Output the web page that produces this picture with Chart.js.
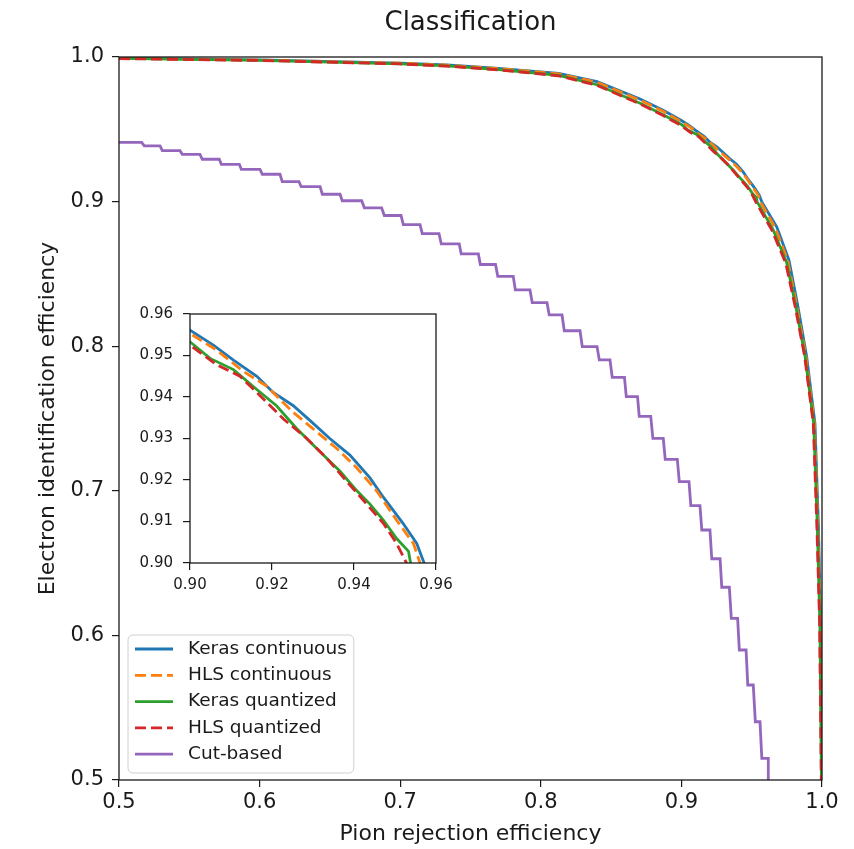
<!DOCTYPE html>
<html>
<head>
<meta charset="utf-8">
<script src="https://cdn.jsdelivr.net/npm/chart.js@4.4.1/dist/chart.umd.min.js"></script>
<style>
  body { margin: 0; background: #fff; }
  #wrap { position: relative; width: 854px; height: 849px; }
  #inset { position: absolute; left: 130px; top: 295px; }
</style>
</head>
<body>
<div id="wrap">
  <canvas id="main" width="854" height="849"></canvas>
  <canvas id="inset" width="330" height="310"></canvas>
</div>
<script>
const FONT = '"DejaVu Sans", sans-serif'
const INK = '#1a1a1a'

const labels = ['Keras continuous', 'HLS continuous', 'Keras quantized', 'HLS quantized', 'Cut-based']
const colors = ['#1f77b4', '#ff7f0e', '#2ca02c', '#d62728', '#9467bd']

const mainTicks = [0.5, 0.6, 0.7, 0.8, 0.9, 1.0]
const insetXTicks = [0.90, 0.92, 0.94, 0.96]
const insetYTicks = [0.90, 0.91, 0.92, 0.93, 0.94, 0.95, 0.96]

// ROC curves (pion rejection -> electron efficiency)
const kerasContX = [0.5, 0.6, 0.7, 0.733, 0.77, 0.8127, 0.84, 0.8706, 0.887, 0.9, 0.9057, 0.9106, 0.9163, 0.9203, 0.9252, 0.9293, 0.9341, 0.939, 0.9439, 0.9472, 0.952, 0.9553, 0.9571, 0.9678, 0.9765, 0.9829, 0.9891, 0.995, 0.9974, 0.9991, 1.0]
const kerasContY = [0.9992, 0.998, 0.9958, 0.9945, 0.9922, 0.9887, 0.983, 0.971, 0.9632, 0.9561, 0.9525, 0.9489, 0.945, 0.9411, 0.9379, 0.9343, 0.93, 0.926, 0.9205, 0.9158, 0.9095, 0.9047, 0.90, 0.8826, 0.8596, 0.8273, 0.7927, 0.7467, 0.6775, 0.6084, 0.5]

const hlsContX = [0.5, 0.6, 0.7, 0.733, 0.77, 0.8127, 0.84, 0.8706, 0.887, 0.9, 0.9065, 0.913, 0.9187, 0.9252, 0.9309, 0.9358, 0.9407, 0.9455, 0.9504, 0.9545, 0.9561, 0.9668, 0.9756, 0.9822, 0.9886, 0.9946, 0.997, 0.9988, 0.9998]
const hlsContY = [0.9991, 0.9979, 0.9957, 0.9943, 0.992, 0.9884, 0.9825, 0.9702, 0.9625, 0.9553, 0.9513, 0.9462, 0.9426, 0.9363, 0.9316, 0.9276, 0.9229, 0.9174, 0.9103, 0.9047, 0.90, 0.8818, 0.8593, 0.827, 0.7927, 0.7467, 0.6775, 0.6084, 0.5]

const kerasQuantX = [0.5, 0.6, 0.7, 0.733, 0.77, 0.8127, 0.84, 0.8706, 0.887, 0.9, 0.9049, 0.9106, 0.9163, 0.9211, 0.926, 0.9309, 0.9366, 0.9407, 0.9439, 0.9472, 0.9504, 0.9533, 0.9538, 0.965, 0.9748, 0.9815, 0.988, 0.9941, 0.9966, 0.9985, 0.9996]
const kerasQuantY = [0.999, 0.9977, 0.9953, 0.9938, 0.9913, 0.9873, 0.9808, 0.968, 0.960, 0.9533, 0.9493, 0.9466, 0.9418, 0.9379, 0.9324, 0.9276, 0.9221, 0.9174, 0.9142, 0.9103, 0.9059, 0.9028, 0.90, 0.881, 0.858, 0.827, 0.7927, 0.7467, 0.6775, 0.6084, 0.5]

const hlsQuantX = [0.5, 0.6, 0.7, 0.733, 0.77, 0.8127, 0.84, 0.8706, 0.887, 0.9, 0.9065, 0.9122, 0.9171, 0.9228, 0.9285, 0.9333, 0.9382, 0.9431, 0.9472, 0.9504, 0.9528, 0.9642, 0.9742, 0.981, 0.9877, 0.9938, 0.9963, 0.9983, 0.9995]
const hlsQuantY = [0.9989, 0.9976, 0.9952, 0.9937, 0.9911, 0.987, 0.9804, 0.9675, 0.9595, 0.9525, 0.9478, 0.945, 0.9403, 0.9347, 0.93, 0.9253, 0.9197, 0.9142, 0.9095, 0.9047, 0.90, 0.8805, 0.8575, 0.827, 0.7927, 0.7467, 0.6775, 0.6084, 0.5]

// cut-based working points: each step is a flat run at one efficiency level
const cutLevel = [0.9410, 0.9385, 0.9352, 0.9327, 0.9293, 0.9258, 0.9223, 0.9189, 0.9138, 0.9103, 0.9051, 0.9006, 0.8957, 0.8904, 0.8841, 0.8779, 0.8707, 0.8638, 0.8565, 0.8483, 0.8389, 0.8301, 0.8216, 0.8107, 0.7997, 0.7905, 0.7785, 0.7651, 0.7515, 0.7363, 0.7218, 0.7063, 0.6897, 0.6729, 0.6530, 0.6333, 0.6118, 0.5899, 0.5657, 0.5403, 0.5150]
const cutFrom = [0.5, 0.5180, 0.5308, 0.5450, 0.5592, 0.5728, 0.5870, 0.6019, 0.6161, 0.6296, 0.6446, 0.6588, 0.6745, 0.6887, 0.7022, 0.7157, 0.7292, 0.7434, 0.7570, 0.7694, 0.7819, 0.7939, 0.8060, 0.8167, 0.8295, 0.8416, 0.8508, 0.8608, 0.8700, 0.8797, 0.8885, 0.8985, 0.9067, 0.9145, 0.9216, 0.9287, 0.9355, 0.9412, 0.9472, 0.9526, 0.9572]
const cutTo = [0.5161, 0.5292, 0.5434, 0.5576, 0.5713, 0.5856, 0.6003, 0.6145, 0.6280, 0.6430, 0.6572, 0.6726, 0.6868, 0.7006, 0.7141, 0.7276, 0.7420, 0.7556, 0.7678, 0.7804, 0.7923, 0.8044, 0.8151, 0.8279, 0.8400, 0.8492, 0.8595, 0.8688, 0.8782, 0.8871, 0.8971, 0.9054, 0.9132, 0.9203, 0.9275, 0.9341, 0.9400, 0.9460, 0.9511, 0.9559, 0.9618]

function zip(xs, ys) {
    return xs.map((x, i) => ({ x, y: ys[i] }))
}

const cutPoints = []
cutLevel.forEach((y, i) => {
    cutPoints.push({ x: cutFrom[i], y }, { x: cutTo[i], y })
})
cutPoints.push({ x: cutTo[cutTo.length - 1], y: 0.5 })

function lineSet(i, data, dashed) {
    return {
        label: labels[i],
        data,
        borderColor: colors[i],
        backgroundColor: colors[i],
        borderWidth: 2.8,
        borderDash: dashed ? [11, 5] : [],
        pointRadius: 0,
        showLine: true,
        fill: false,
        tension: 0,
        order: 5 - i
    }
}

function rocSets() {
    return [
        lineSet(0, zip(kerasContX, kerasContY), false),
        lineSet(1, zip(hlsContX, hlsContY), true),
        lineSet(2, zip(kerasQuantX, kerasQuantY), false),
        lineSet(3, zip(hlsQuantX, hlsQuantY), true)
    ]
}

const framePlugin = {
    id: 'frame',
    beforeDraw(chart) {
        const { ctx, chartArea: a } = chart
        ctx.save()
        ctx.fillStyle = '#fff'
        ctx.fillRect(a.left, a.top, a.right - a.left, a.bottom - a.top)
        ctx.restore()
    },
    afterDatasetsDraw(chart) {
        const { ctx, chartArea: a } = chart
        ctx.save()
        ctx.strokeStyle = INK
        ctx.lineWidth = 1.3
        ctx.strokeRect(a.left, a.top, a.right - a.left, a.bottom - a.top)
        ctx.restore()
    }
}

const titlePlugin = {
    id: 'plotTitle',
    afterDraw(chart, args, opts) {
        const { ctx, chartArea: a } = chart
        ctx.save()
        ctx.font = `26px ${FONT}`
        ctx.fillStyle = INK
        ctx.textAlign = 'center'
        ctx.textBaseline = 'middle'
        ctx.fillText(opts.text, (a.left + a.right) / 2, 23)
        ctx.restore()
    }
}

// legend sits inside the axes, lower left, like matplotlib's
const legendPlugin = {
    id: 'innerLegend',
    afterDraw(chart) {
        const { ctx, chartArea: a } = chart
        const sets = chart.data.datasets
        const rowH = 26.3
        ctx.save()
        ctx.font = `18.5px ${FONT}`
        const textW = Math.max(...sets.map(d => ctx.measureText(d.label).width))
        const w = 60 + textW + 7
        const h = 138
        const left = a.left + 9
        const top = a.bottom - 7 - h
        ctx.beginPath()
        ctx.roundRect(left, top, w, h, 5)
        ctx.fillStyle = 'rgba(255,255,255,0.8)'
        ctx.fill()
        ctx.strokeStyle = '#d0d0d0'
        ctx.lineWidth = 1
        ctx.stroke()
        sets.forEach((d, i) => {
            const y = top + 14 + rowH * i
            ctx.strokeStyle = d.borderColor
            ctx.lineWidth = d.borderWidth
            ctx.setLineDash(d.borderDash)
            ctx.beginPath()
            ctx.moveTo(left + 7, y)
            ctx.lineTo(left + 45, y)
            ctx.stroke()
            ctx.setLineDash([])
            ctx.fillStyle = INK
            ctx.textBaseline = 'middle'
            ctx.fillText(d.label, left + 60, y)
        })
        ctx.restore()
    }
}

function axis(ticks, digits, fontSize, pad, fit) {
    return {
        type: 'linear',
        min: ticks[0],
        max: ticks[ticks.length - 1],
        afterBuildTicks: s => { s.ticks = ticks.map(value => ({ value })) },
        afterFit: fit,
        grid: { drawOnChartArea: false, drawTicks: true, tickLength: 7, color: INK, lineWidth: 1.2 },
        border: { display: false },
        ticks: {
            font: { family: FONT, size: fontSize },
            color: INK,
            padding: pad,
            autoSkip: false,
            maxRotation: 0,
            callback: v => v.toFixed(digits)
        }
    }
}

const mainX = axis(mainTicks, 1, 21, 3, s => { s.height = 69 })
mainX.title = { display: true, text: 'Pion rejection efficiency', color: INK, font: { family: FONT, size: 22 }, padding: { top: 0, bottom: 2 } }
const mainY = axis(mainTicks, 1, 21, 8, s => { s.width = 119 })
mainY.title = { display: true, text: 'Electron identification efficiency', color: INK, font: { family: FONT, size: 22 }, padding: { top: 35, bottom: 0 } }

new Chart(document.getElementById('main'), {
    type: 'scatter',
    data: {
        datasets: [...rocSets(), lineSet(4, cutPoints, false)]
    },
    options: {
        responsive: false,
        animation: false,
        layout: { padding: { left: 0, top: 57, right: 32, bottom: 0 } },
        scales: { x: mainX, y: mainY },
        plugins: {
            legend: { display: false },
            tooltip: { enabled: false },
            plotTitle: { text: 'Classification' }
        }
    },
    plugins: [framePlugin, titlePlugin, legendPlugin]
})

new Chart(document.getElementById('inset'), {
    type: 'scatter',
    data: { datasets: rocSets() },
    options: {
        responsive: false,
        animation: false,
        layout: { padding: { left: 0, top: 15, right: 24, bottom: 0 } },
        scales: {
            x: axis(insetXTicks, 2, 15, 6, s => { s.height = 42 }),
            y: axis(insetYTicks, 2, 15, 10, s => { s.width = 60 })
        },
        plugins: {
            legend: { display: false },
            tooltip: { enabled: false }
        }
    },
    plugins: [framePlugin]
})
</script>
</body>
</html>
